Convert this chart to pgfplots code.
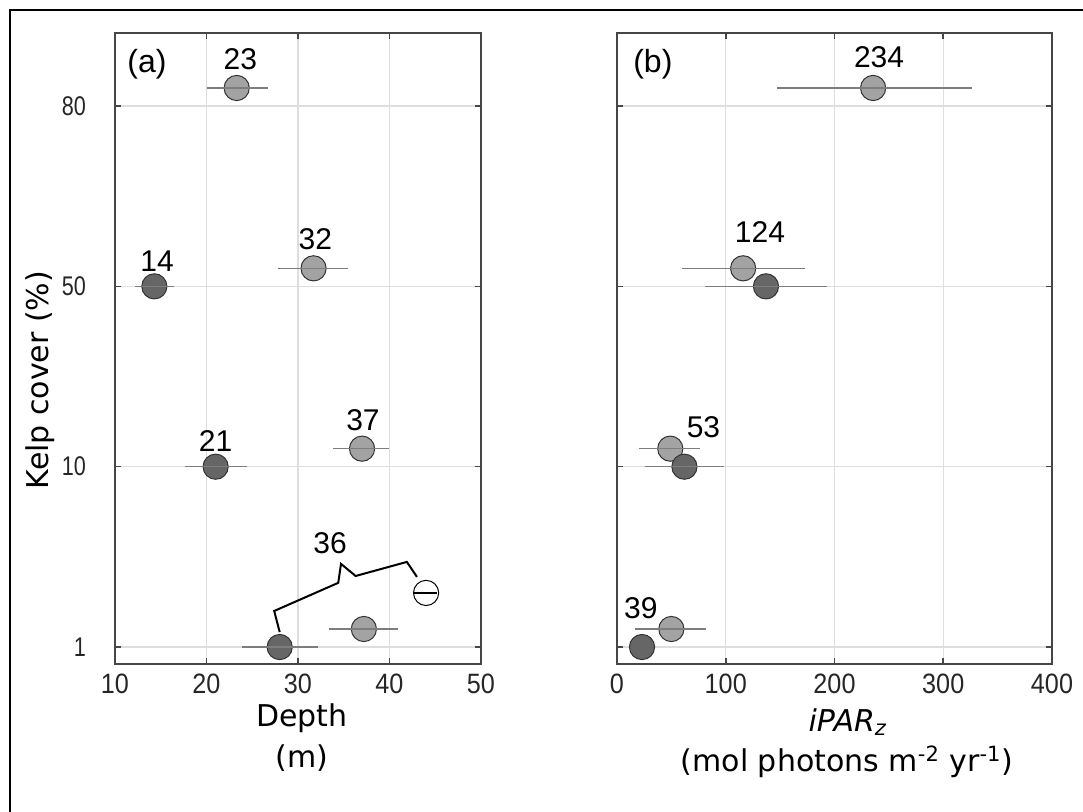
\documentclass[border=0pt]{standalone}
\usepackage{fontspec}
\setmainfont{Liberation Sans}
\newfontfamily\labelfont{DejaVu Sans}
\newfontfamily\tickfont[FakeStretch=0.8]{Liberation Sans}
\newfontfamily\xtickfont[FakeStretch=0.9]{Liberation Sans}
\usepackage{pgfplots}
\pgfplotsset{compat=1.18}

\definecolor{lightpt}{RGB}{163,163,163}
\definecolor{darkpt}{RGB}{102,102,102}
\definecolor{edgept}{RGB}{50,50,50}
\definecolor{errgray}{RGB}{125,125,125}
\definecolor{gridgray}{RGB}{222,222,222}
\definecolor{axgray}{RGB}{70,70,70}

\tikzset{
  dlabel/.style={font=\fontsize{15}{17}\selectfont},
  plabel/.style={font=\fontsize{16}{18}\selectfont},
  tlabel/.style={font=\labelfont\fontsize{15}{18}\selectfont},
}

\pgfplotsset{
  panel/.style={
    scale only axis, height=315.5pt,
    ymin=-0.094, ymax=3.405, ytick={0,1,2,3},
    grid=major, grid style={gridgray, line width=0.6pt},
    axis line style={axgray, line width=0.8pt},
    tick style={axgray, line width=0.8pt},
    tick align=inside, major tick length=3pt,
    /pgf/number format/assume math mode=true,
    yticklabel style={font=\tickfont\fontsize{13.5}{15}\selectfont, text=black!85},
    xticklabel style={font=\xtickfont\fontsize{14}{16}\selectfont, text=black!85, yshift=-1.5pt},
    clip=false, clip marker paths=true,
  },
  ptlight/.style={only marks, mark=*, mark size=6.3pt,
    mark options={fill=lightpt, draw=edgept, line width=0.5pt}},
  ptdark/.style={only marks, mark=*, mark size=6.3pt,
    mark options={fill=darkpt, draw=edgept, line width=0.5pt}},
  ptwhite/.style={only marks, mark=*, mark size=6.3pt,
    mark options={fill=white, draw=black, line width=0.5pt}},
  ebar/.style={draw=none, mark=none, forget plot,
    error bars/.cd, x dir=both, x explicit, error mark=none,
    error bar style={draw=#1, solid, line width=0.75pt}},
  ebar/.default=errgray,
}

\begin{document}
\begin{tikzpicture}
\useasboundingbox (0,0) rectangle (541.5pt,406pt);
\draw[line width=1.2pt] (5pt,0) -- (5pt,401pt) -- (541.5pt,401pt);

% (a) depth
\begin{axis}[panel, at={(57.5pt,74pt)}, anchor=south west, width=183pt,
  xmin=10, xmax=50, xtick={10,20,30,40,50},
  yticklabels={1,10,50,80}, yticklabel style={xshift=-11pt}]
\addplot[ptlight] coordinates {(23.3,3.1) (31.7,2.1) (37.0,1.1) (37.2,0.1)};
\addplot[ebar] coordinates {
  (23.3,3.1) -= (3.2,0) += (3.4,0)
  (31.7,2.1) -= (3.9,0) += (3.8,0)
  (37.0,1.1) -= (3.2,0) += (3.0,0)
  (37.2,0.1) -= (3.8,0) += (3.7,0)
};
\addplot[ptdark] coordinates {(14.3,2) (21.0,1) (28.0,0)};
\addplot[ebar] coordinates {
  (14.3,2) -= (2.1,0) += (2.1,0)
  (21.0,1) -= (3.3,0) += (3.4,0)
  (28.0,0) -= (4.1,0) += (4.2,0)
};
\addplot[ptwhite] coordinates {(44.0,0.3)};
\addplot[ebar=black] coordinates {(44.0,0.3) -= (1.4,0) += (1.2,0)};
% bracket for 36
\draw[black, line width=1pt] (axis cs:28.0,0.083) -- (axis cs:27.4,0.2)
  -- (axis cs:34.4,0.356) -- (axis cs:34.7,0.461) -- (axis cs:36.3,0.394)
  -- (axis cs:41.9,0.472) -- (axis cs:43.0,0.389);
\node[plabel] at (axis cs:13.5,3.233) {(a)};
\node[dlabel] at (axis cs:23.7,3.26) {23};
\node[dlabel] at (axis cs:14.6,2.14) {14};
\node[dlabel] at (axis cs:31.9,2.26) {32};
\node[dlabel] at (axis cs:37.1,1.256) {37};
\node[dlabel] at (axis cs:21.0,1.14) {21};
\node[dlabel] at (axis cs:33.5,0.578) {36};
\end{axis}

% (b) iPAR
\begin{axis}[panel, at={(308.5pt,74pt)}, anchor=south west, width=217.5pt,
  xmin=0, xmax=400, xtick={0,100,200,300,400},
  yticklabels={}]
\addplot[ptlight] coordinates {(235.5,3.1) (116,2.1) (49,1.1) (50,0.1)};
\addplot[ebar] coordinates {
  (235.5,3.1) -= (88.5,0) += (90.5,0)
  (116,2.1) -= (56,0) += (57,0)
  (49,1.1) -= (29,0) += (27,0)
  (50,0.1) -= (33,0) += (32,0)
};
\addplot[ptdark] coordinates {(137,2) (62,1) (23,0)};
\addplot[ebar] coordinates {
  (137,2) -= (56,0) += (56,0)
  (62,1) -= (36,0) += (36,0)
};
\node[plabel] at (axis cs:33,3.233) {(b)};
\node[dlabel] at (axis cs:241,3.27) {234};
\node[dlabel] at (axis cs:131.5,2.3) {124};
\node[dlabel] at (axis cs:79.5,1.22) {53};
\node[dlabel] at (axis cs:22,0.217) {39};
\end{axis}

% axis titles
\node[tlabel, rotate=90] at (20pt,216pt) {Kelp cover (\%)};
\node[tlabel] at (151pt,47pt) {Depth};
\node[tlabel] at (151pt,27pt) {(m)};
\node[tlabel] at (424pt,45pt) {\textit{iPAR}\textsubscript{\textit{z}}};
\node[tlabel] at (423.5pt,25pt) {(mol photons m\textsuperscript{-2} yr\textsuperscript{-1})};
\end{tikzpicture}
\end{document}
